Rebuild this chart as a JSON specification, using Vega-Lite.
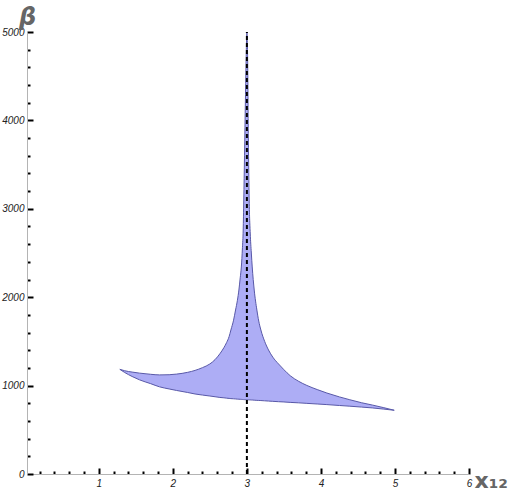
{
  "$schema": "https://vega.github.io/schema/vega-lite/v6.json",
  "width": 442,
  "height": 442,
  "autosize": {"type": "none"},
  "padding": {"left": 27, "top": 32, "right": 42, "bottom": 17},
  "background": "white",
  "config": {
    "view": {"stroke": null},
    "axis": {
      "domainColor": "#b4b4b4",
      "domainWidth": 1,
      "tickColor": "black",
      "tickWidth": 2,
      "grid": false,
      "labelFont": "Liberation Sans",
      "labelFontStyle": "italic",
      "labelFontSize": 10,
      "labelColor": "#222222",
      "titleFont": "DejaVu Sans",
      "titleFontWeight": "bold",
      "titleColor": "#666666"
    }
  },
  "layer": [
    {
      "data": {
        "values": [
          {"x": 1.284, "upper": 1184, "lower": 1184},
          {"x": 1.35, "upper": 1168, "lower": 1148},
          {"x": 1.45, "upper": 1153, "lower": 1103},
          {"x": 1.55, "upper": 1141, "lower": 1065},
          {"x": 1.7, "upper": 1128, "lower": 1022},
          {"x": 1.82, "upper": 1121, "lower": 986},
          {"x": 1.95, "upper": 1123, "lower": 962},
          {"x": 2.05, "upper": 1130, "lower": 945},
          {"x": 2.2, "upper": 1150, "lower": 922},
          {"x": 2.3, "upper": 1172, "lower": 905},
          {"x": 2.4, "upper": 1203, "lower": 893},
          {"x": 2.5, "upper": 1245, "lower": 882},
          {"x": 2.57, "upper": 1294, "lower": 874},
          {"x": 2.635, "upper": 1360, "lower": 866},
          {"x": 2.69, "upper": 1430, "lower": 862},
          {"x": 2.726, "upper": 1487, "lower": 858},
          {"x": 2.76, "upper": 1555, "lower": 855},
          {"x": 2.784, "upper": 1629, "lower": 853},
          {"x": 2.82, "upper": 1740, "lower": 851},
          {"x": 2.847, "upper": 1855, "lower": 849},
          {"x": 2.872, "upper": 1965, "lower": 847},
          {"x": 2.892, "upper": 2081, "lower": 846},
          {"x": 2.91, "upper": 2220, "lower": 845},
          {"x": 2.925, "upper": 2342, "lower": 844},
          {"x": 2.94, "upper": 2560, "lower": 843},
          {"x": 2.95, "upper": 2760, "lower": 842},
          {"x": 2.958, "upper": 3100, "lower": 842},
          {"x": 2.968, "upper": 3600, "lower": 841},
          {"x": 2.98, "upper": 4230, "lower": 841},
          {"x": 2.99, "upper": 4700, "lower": 840},
          {"x": 3.0, "upper": 5000, "lower": 840},
          {"x": 3.01, "upper": 4700, "lower": 840},
          {"x": 3.02, "upper": 3800, "lower": 839},
          {"x": 3.031, "upper": 3100, "lower": 839},
          {"x": 3.045, "upper": 2726, "lower": 838},
          {"x": 3.06, "upper": 2500, "lower": 837},
          {"x": 3.072, "upper": 2342, "lower": 837},
          {"x": 3.099, "upper": 2081, "lower": 835},
          {"x": 3.135, "upper": 1855, "lower": 833},
          {"x": 3.16, "upper": 1730, "lower": 832},
          {"x": 3.189, "upper": 1629, "lower": 831},
          {"x": 3.24, "upper": 1500, "lower": 828},
          {"x": 3.292, "upper": 1403, "lower": 825},
          {"x": 3.35, "upper": 1322, "lower": 822},
          {"x": 3.427, "upper": 1245, "lower": 818},
          {"x": 3.5, "upper": 1180, "lower": 815},
          {"x": 3.585, "upper": 1112, "lower": 810},
          {"x": 3.7, "upper": 1048, "lower": 805},
          {"x": 3.81, "upper": 1002, "lower": 799},
          {"x": 3.95, "upper": 955, "lower": 792},
          {"x": 4.08, "upper": 916, "lower": 785},
          {"x": 4.25, "upper": 872, "lower": 775},
          {"x": 4.39, "upper": 840, "lower": 767},
          {"x": 4.55, "upper": 806, "lower": 757},
          {"x": 4.7, "upper": 779, "lower": 747},
          {"x": 4.85, "upper": 750, "lower": 734},
          {"x": 4.99, "upper": 721, "lower": 721}
        ]
      },
      "mark": {"type": "area", "fill": "#adadf5", "fillOpacity": 1, "stroke": "#5858a8", "strokeWidth": 1, "interpolate": "monotone"},
      "encoding": {
        "x": {
          "field": "x",
          "type": "quantitative",
          "scale": {"domain": [0.03, 6], "nice": false, "zero": false},
          "axis": {
            "title": "x₁₂",
            "titleFontSize": 22,
            "titleAngle": 0,
            "titleAlign": "left",
            "titleBaseline": "alphabetic",
            "titleX": 447,
            "titleY": 13,
            "values": [0.2, 0.4, 0.6, 0.8, 1, 1.2, 1.4, 1.6, 1.8, 2, 2.2, 2.4, 2.6, 2.8, 3, 3.2, 3.4, 3.6, 3.8, 4, 4.2, 4.4, 4.6, 4.8, 5, 5.2, 5.4, 5.6, 5.8, 6],
            "tickCount": 200,
            "labelExpr": "abs(datum.value - round(datum.value)) < 0.001 ? format(datum.value, 'd') : ''",
            "tickSize": {"condition": {"test": "abs(datum.value - round(datum.value)) < 0.001", "value": -6}, "value": -3},
            "labelPadding": 10,
            "labelFlush": false,
            "labelOverlap": false
          }
        },
        "y": {
          "field": "upper",
          "type": "quantitative",
          "scale": {"domain": [0, 5000], "nice": false},
          "axis": {
            "title": "β",
            "titleFontSize": 24,
            "titleFontStyle": "italic",
            "titleAngle": 0,
            "titleAlign": "center",
            "titleBaseline": "alphabetic",
            "titleX": 0,
            "titleY": -8,
            "values": [0, 200, 400, 600, 800, 1000, 1200, 1400, 1600, 1800, 2000, 2200, 2400, 2600, 2800, 3000, 3200, 3400, 3600, 3800, 4000, 4200, 4400, 4600, 4800, 5000],
            "tickCount": 200,
            "format": "d",
            "labelExpr": "datum.value % 1000 === 0 ? datum.label : ''",
            "tickSize": {"condition": {"test": "datum.value % 1000 === 0", "value": -6}, "value": -3},
            "labelPadding": 9,
            "labelFlush": false,
            "labelOverlap": false
          }
        },
        "y2": {"field": "lower"}
      }
    },
    {
      "data": {"values": [{"x": 3, "y0": 0, "y1": 5000}]},
      "mark": {"type": "rule", "color": "black", "strokeWidth": 2, "strokeDash": [4, 3]},
      "encoding": {
        "x": {"field": "x", "type": "quantitative"},
        "y": {"field": "y0", "type": "quantitative"},
        "y2": {"field": "y1"}
      }
    }
  ]
}
